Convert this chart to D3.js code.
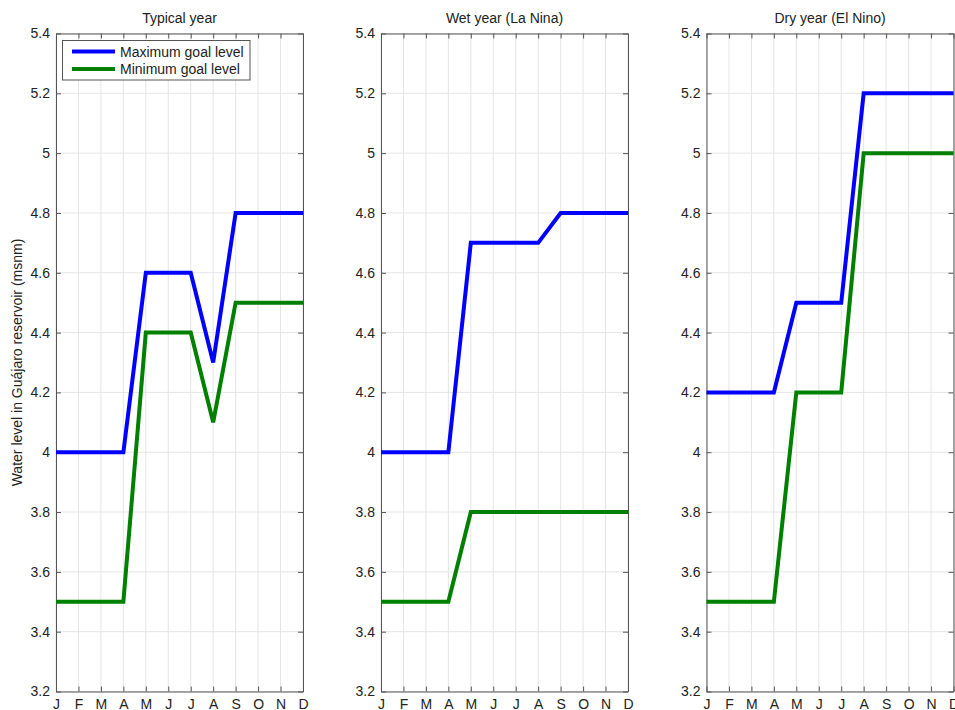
<!DOCTYPE html>
<html>
<head>
<meta charset="utf-8">
<script src="https://cdn.jsdelivr.net/npm/d3@7"></script>
<style>
  body { margin: 0; background: #fff; }
  svg { display: block; font-family: "Liberation Sans", Arial, sans-serif; }
</style>
</head>
<body>
<div id="chart"></div>
<script>
// month tick labels
var months = ["J", "F", "M", "A", "M", "J", "J", "A", "S", "O", "N", "D"];
var yTicks = [3.2, 3.4, 3.6, 3.8, 4, 4.2, 4.4, 4.6, 4.8, 5, 5.2, 5.4];

var titles = ["Typical year", "Wet year (La Nina)", "Dry year (El Nino)"];

// goal levels per month (msnm)
var typicalMax = [4.0, 4.0, 4.0, 4.0, 4.6, 4.6, 4.6, 4.3, 4.8, 4.8, 4.8, 4.8];
var typicalMin = [3.5, 3.5, 3.5, 3.5, 4.4, 4.4, 4.4, 4.1, 4.5, 4.5, 4.5, 4.5];
var wetMax = [4.0, 4.0, 4.0, 4.0, 4.7, 4.7, 4.7, 4.7, 4.8, 4.8, 4.8, 4.8];
var wetMin = [3.5, 3.5, 3.5, 3.5, 3.8, 3.8, 3.8, 3.8, 3.8, 3.8, 3.8, 3.8];
var dryMax = [4.2, 4.2, 4.2, 4.2, 4.5, 4.5, 4.5, 5.2, 5.2, 5.2, 5.2, 5.2];
var dryMin = [3.5, 3.5, 3.5, 3.5, 4.2, 4.2, 4.2, 5.0, 5.0, 5.0, 5.0, 5.0];

var panels = [
  {title: titles[0], max: typicalMax, min: typicalMin},
  {title: titles[1], max: wetMax, min: wetMin},
  {title: titles[2], max: dryMax, min: dryMin}
];

var svgWidth = 955, svgHeight = 710;
var panelLeft = [56, 381, 706.5],
    panelWidth = 247,
    plotTop = 33.5, plotBottom = 691.5;
var axisColor = "#555", gridColor = "#e5e5e5";

var svg = d3.select("#chart").append("svg")
    .attr("width", svgWidth)
    .attr("height", svgHeight);

var y = d3.scaleLinear().domain([3.2, 5.4]).range([plotBottom, plotTop]);

panels.forEach(function(p, i) {
  var x = d3.scaleLinear().domain([0, 11]).range([panelLeft[i], panelLeft[i] + panelWidth]);
  var g = svg.append("g");

  // grid
  g.append("g").selectAll("line").data(d3.range(12)).enter().append("line")
      .attr("x1", function(d) { return x(d); }).attr("x2", function(d) { return x(d); })
      .attr("y1", plotTop).attr("y2", plotBottom)
      .attr("stroke", gridColor).attr("stroke-width", 1);
  g.append("g").selectAll("line").data(yTicks).enter().append("line")
      .attr("x1", x(0)).attr("x2", x(11))
      .attr("y1", function(d) { return y(d); }).attr("y2", function(d) { return y(d); })
      .attr("stroke", gridColor).attr("stroke-width", 1);

  // axes (ticks pointing inward)
  var xAxisB = d3.axisBottom(x).tickValues(d3.range(12))
      .tickFormat(function(d) { return months[d]; }).tickSizeInner(-5).tickSizeOuter(0).tickPadding(8);
  var xAxisT = d3.axisTop(x).tickValues(d3.range(12)).tickFormat("").tickSizeInner(-5).tickSizeOuter(0);
  var yAxisL = d3.axisLeft(y).tickValues(yTicks).tickFormat(d3.format("")).tickSizeInner(-5).tickSizeOuter(0).tickPadding(6);
  var yAxisR = d3.axisRight(y).tickValues(yTicks).tickFormat("").tickSizeInner(-5).tickSizeOuter(0);

  [[xAxisB, "translate(0," + plotBottom + ")"], [xAxisT, "translate(0," + plotTop + ")"],
   [yAxisL, "translate(" + x(0) + ",0)"], [yAxisR, "translate(" + x(11) + ",0)"]].forEach(function(a) {
    var ax = g.append("g").attr("transform", a[1]).call(a[0]);
    ax.selectAll("path, line").attr("stroke", axisColor);
    ax.selectAll("text").attr("fill", "#222").style("font-size", "14px")
      .style("font-family", '"Liberation Sans", Arial, sans-serif');
  });

  // series lines
  var line = d3.line().x(function(d, k) { return x(k); }).y(function(d) { return y(d); });
  g.append("path").datum(p.min).attr("d", line)
      .attr("fill", "none").attr("stroke", "#008000").attr("stroke-width", 4).attr("stroke-linejoin", "miter");
  g.append("path").datum(p.max).attr("d", line)
      .attr("fill", "none").attr("stroke", "#0000ff").attr("stroke-width", 4).attr("stroke-linejoin", "miter");

  // title
  svg.append("text")
      .attr("x", x(5.5)).attr("y", 23)
      .attr("text-anchor", "middle")
      .style("font-size", "14px").attr("fill", "#222")
      .text(p.title);
});

// y label
svg.append("text")
    .attr("transform", "translate(22," + ((plotTop + plotBottom) / 2) + ") rotate(-90)")
    .attr("text-anchor", "middle")
    .style("font-size", "14px").attr("fill", "#222")
    .text("Water level in Guájaro reservoir (msnm)");

// legend
var legend = svg.append("g").attr("transform", "translate(62.5,40.5)");
legend.append("rect").attr("width", 187.5).attr("height", 39.5)
    .attr("fill", "#fff").attr("stroke", axisColor);
var legendItems = [["Maximum goal level", "#0000ff"], ["Minimum goal level", "#008000"]];
legendItems.forEach(function(d, k) {
  var row = legend.append("g").attr("transform", "translate(0," + (11 + k * 17.5) + ")");
  row.append("line").attr("x1", 9.5).attr("x2", 52.5).attr("stroke", d[1]).attr("stroke-width", 4);
  row.append("text").attr("x", 57.5).attr("y", 5).style("font-size", "14px").attr("fill", "#222").text(d[0]);
});
</script>
</body>
</html>
